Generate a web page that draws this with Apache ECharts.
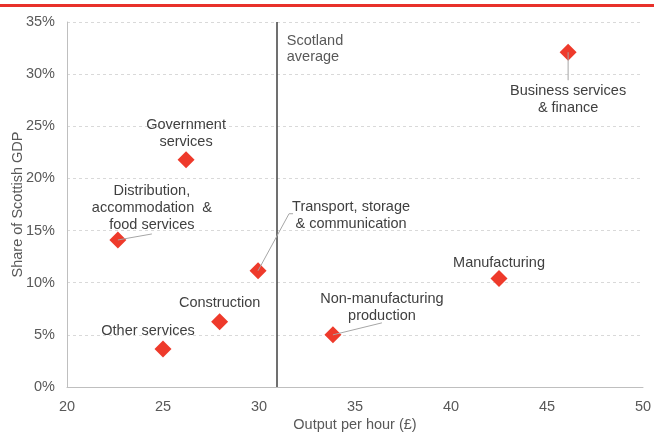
<!DOCTYPE html>
<html><head><meta charset="utf-8">
<script src="https://cdn.jsdelivr.net/npm/echarts@6/dist/echarts.min.js"></script>
<style>html,body{margin:0;padding:0;background:#fff}#c{width:654px;height:432px}</style>
</head><body><div id="c"></div>
<script>
const sectors = ['Business services\n& finance','Government\nservices','Distribution,\naccommodation  &\nfood services','Transport, storage\n& communication','Construction','Other services','Non-manufacturing\nproduction','Manufacturing'];
const outputPerHour = [46.1, 26.2, 22.65, 29.95, 27.95, 25.0, 33.85, 42.5];
const gdpShare = [32.1, 21.8, 14.1, 11.15, 6.25, 3.65, 5.0, 10.4];
const scotlandAverage = 30.9;
const xTicks = [20, 25, 30, 35, 40, 45, 50];
const yTicks = [0, 5, 10, 15, 20, 25, 30, 35];

// label placement offsets (px)
const labelDx = [0, 0, 34, 93, 0, -15, 49, 0];
const labelDy = [47, -26, -32, -55, -19, -18, -27, -16];
// leader line pixel paths relative to the point (null = none)
const leaderPaths = [[[0,28]], null, [[34,-6]], [[31,-57],[35,-57]], null, null, [[49,-12]], null];

const chart = echarts.init(document.getElementById('c'));
const FONT = 'Liberation Sans, Arial, sans-serif';
const TXT = '#595959';
const LBL = '#404040';
const FS = 14.5;
chart.setOption({
  animation: false,
  graphic: [{type:'rect', left:0, top:4, shape:{width:654, height:3}, style:{fill:'#e8312a'}}],
  grid: {left: 67, right: 11, top: 22, bottom: 45, containLabel:false, outerBoundsMode:'none'},
  xAxis: {
    type:'value', min: xTicks[0], max: xTicks[xTicks.length-1], interval: 5,
    name: 'Output per hour (£)', nameLocation:'middle', nameGap: 30, nameMoveOverlap:false,
    nameTextStyle:{color:TXT, fontSize:FS, fontFamily:FONT},
    axisLine:{show:true, lineStyle:{color:'#bfbfbf'}}, axisTick:{show:false},
    axisLabel:{color:TXT, fontSize:FS, fontFamily:FONT, margin:12},
    splitLine:{show:false}
  },
  yAxis: {
    type:'value', min: yTicks[0], max: yTicks[yTicks.length-1], interval: 5,
    name: 'Share of Scottish GDP', nameLocation:'middle', nameGap: 42, nameMoveOverlap:false,
    nameTextStyle:{color:TXT, fontSize:FS, fontFamily:FONT},
    axisLine:{show:true, lineStyle:{color:'#bfbfbf'}}, axisTick:{show:false},
    axisLabel:{color:TXT, fontSize:FS, fontFamily:FONT, margin:12, formatter: v => v + '%'},
    splitLine:{show:true, lineStyle:{color:'#d9d9d9', type:[3,3]}}
  },
  series: [{
    type:'scatter', symbol:'diamond', symbolSize:17, z:2,
    itemStyle:{color:'#ee3a2b', opacity:1},
    data: sectors.map((s,i)=>({value:[outputPerHour[i], gdpShare[i]], name:s})),
    label:{show:true, position:'inside', formatter: p => p.name, color:LBL, fontSize:FS, fontFamily:FONT, lineHeight:17, align:'center'},
    labelLayout: p => ({dx: labelDx[p.dataIndex], dy: labelDy[p.dataIndex]}),
    markLine:{
      silent:true, symbol:'none', animation:false,
      lineStyle:{color:'#404040', width:1.5, type:'solid'},
      label:{show:false},
      data:[{xAxis: scotlandAverage}]
    },
    markPoint:{
      silent:true, symbol:'circle', symbolSize:1, itemStyle:{color:'rgba(0,0,0,0)'},
      label:{show:true, position:'right', distance:10, offset:[0,27], formatter:'Scotland\naverage', color:TXT, fontSize:FS, fontFamily:FONT, lineHeight:16, align:'left'},
      data:[{coord:[scotlandAverage, yTicks[yTicks.length-1]]}]
    }
  }, {
    type:'custom', z:5, silent:true,
    data: sectors.map((s,i)=>[outputPerHour[i], gdpShare[i], i]),
    renderItem: (params, api) => {
      const i = api.value(2);
      const path = leaderPaths[i];
      if (!path) return null;
      const p = api.coord([api.value(0), api.value(1)]);
      const pts = [p].concat(path.map(d => [p[0]+d[0], p[1]+d[1]]));
      return {type:'polyline', shape:{points:pts}, style:{stroke:'#a6a6a6', lineWidth:1, fill:null}};
    }
  }]
});
</script></body></html>
